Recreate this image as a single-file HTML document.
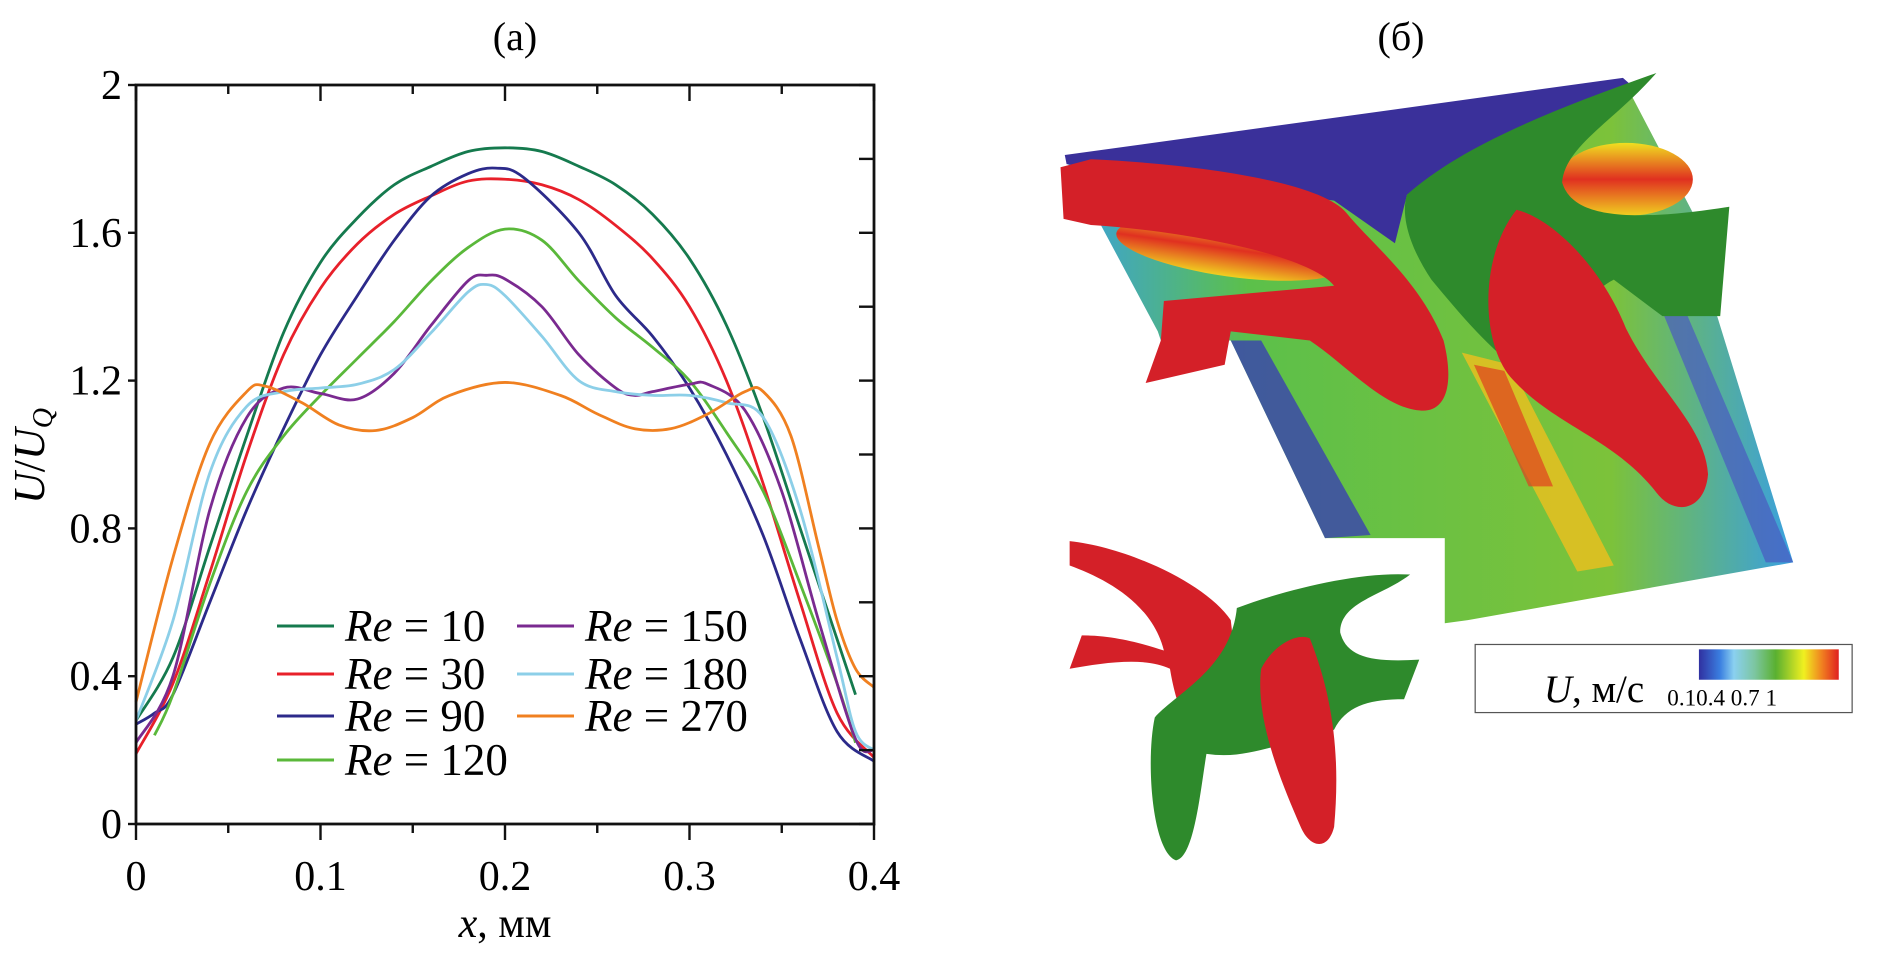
<!DOCTYPE html>
<html><head><meta charset="utf-8"><style>
html,body{margin:0;padding:0;background:#fff;}
svg{display:block;font-family:"Liberation Serif",serif;}
</style></head><body>
<svg id="fig" width="1890" height="963" viewBox="0 0 1890 963" xmlns="http://www.w3.org/2000/svg">
<text x="515" y="50" font-size="40" text-anchor="middle">(a)</text>
<text x="1401" y="50" font-size="40" text-anchor="middle">(б)</text>
<g id="chart"></g>
<g id="legend"></g>
<text transform="translate(44,456) rotate(-90)" font-size="44" text-anchor="middle"><tspan font-style="italic">U</tspan>/<tspan font-style="italic">U</tspan><tspan font-style="italic" font-size="28" dy="8">Q</tspan></text>
<text x="505" y="937" font-size="42" text-anchor="middle"><tspan font-style="italic">x</tspan>, мм</text>

<g transform="translate(945,0) scale(0.608)">
<defs>
<linearGradient id="gPlate" x1="0" y1="0" x2="1" y2="0"><stop offset="0" stop-color="#3aa0e0"/><stop offset="0.25" stop-color="#5cc04a"/><stop offset="0.75" stop-color="#7cc23a"/><stop offset="1" stop-color="#3aa0e0"/></linearGradient>
<linearGradient id="gHot" x1="0" y1="0" x2="0" y2="1"><stop offset="0" stop-color="#f0e020"/><stop offset="0.5" stop-color="#e03020"/><stop offset="1" stop-color="#f0d020"/></linearGradient>
<linearGradient id="gBar" x1="0" y1="0" x2="1" y2="0"><stop offset="0" stop-color="#3030a0"/><stop offset="0.15" stop-color="#3a7ee0"/><stop offset="0.25" stop-color="#8ad0f0"/><stop offset="0.4" stop-color="#7cc6a0"/><stop offset="0.55" stop-color="#5ab030"/><stop offset="0.75" stop-color="#f0f020"/><stop offset="0.88" stop-color="#f08020"/><stop offset="1" stop-color="#e02020"/></linearGradient>
</defs>
<polygon points="200,265 1115,130 1230,350 1150,440 1270,520 1395,925 860,1020 822,1025 822,885 625,885 470,560 355,560 350,545" fill="url(#gPlate)"/>
<polygon points="470,560 520,560 700,880 625,885" fill="#3a40b0" opacity="0.8"/>
<polygon points="1150,440 1200,470 1395,925 1350,925" fill="#4a5ac0" opacity="0.7"/>
<ellipse cx="470" cy="410" rx="190" ry="45" fill="url(#gHot)" transform="rotate(8 470 410)"/>
<ellipse cx="1120" cy="295" rx="110" ry="60" fill="url(#gHot)"/>
<polygon points="850,580 930,600 1100,930 1040,940" fill="#e8c020" opacity="0.85"/>
<polygon points="870,600 920,610 1000,800 960,800" fill="#e04020" opacity="0.7"/>
<polygon points="197,255 1115,128 1140,150 760,320 740,400 640,330 200,270" fill="#3a309a"/>
<path d="M190,275 L240,262 C420,270 620,300 660,350 C700,400 780,460 820,560 C840,640 820,680 780,675 C720,670 660,600 600,560 L470,545 L460,600 L330,630 L355,560 L360,495 L640,470 C600,420 400,380 240,370 L195,360 Z" fill="#d42028"/>
<path d="M760,320 C850,240 1000,180 1170,120 C1100,200 1020,240 1015,300 C1030,350 1100,370 1290,340 L1275,520 L1180,520 L1100,460 C1020,500 1000,640 960,620 C900,580 850,520 800,460 C760,400 750,350 760,320 Z" fill="#2e8a2c"/>
<path d="M940,345 C1000,360 1080,440 1120,540 C1170,640 1250,700 1255,780 C1250,840 1200,850 1170,810 C1100,720 1000,700 930,620 C880,560 880,420 940,345 Z" fill="#d42028"/>
<path d="M205,890 C300,900 430,960 470,1020 C480,1100 480,1200 440,1215 C400,1220 380,1160 370,1100 C330,1080 260,1090 205,1100 L225,1045 C280,1045 330,1060 360,1070 C340,990 260,950 205,930 Z" fill="#d42028"/>
<path d="M480,1000 C560,970 680,940 765,945 C720,980 650,990 650,1040 C660,1080 700,1090 780,1085 L755,1150 C700,1150 660,1160 640,1200 L600,1220 C540,1220 500,1250 430,1240 C420,1300 410,1410 380,1415 C340,1400 330,1250 345,1180 C380,1140 470,1100 480,1000 Z" fill="#2e8a2c"/>
<path d="M520,1100 C540,1060 580,1040 600,1050 C640,1150 650,1250 640,1360 C630,1400 600,1395 585,1360 C550,1280 510,1180 520,1100 Z" fill="#d42028"/>
<rect x="872" y="1060" width="620" height="112" fill="#fff" stroke="#555" stroke-width="2"/>
<rect x="1240" y="1068" width="230" height="50" fill="url(#gBar)"/>
<text x="985" y="1155" font-size="64"><tspan font-style="italic">U</tspan>, м/с</text>
<text x="1188" y="1160" font-size="38">0.10.4 0.7  1</text>
</g>
</svg>
<script>
const xTicks=[0,0.1,0.2,0.3,0.4];
const yTicks=[0,0.4,0.8,1.2,1.6,2];
const seriesNames=["Re = 10","Re = 30","Re = 90","Re = 120","Re = 150","Re = 180","Re = 270"];
const seriesColors=["#157a4e","#e8202a","#2c2a8a","#5ab83a","#7a2a90","#8ccfe8","#f08020"];
const x10=[0,0.02,0.04,0.06,0.08,0.1,0.12,0.14,0.16,0.18,0.2,0.22,0.24,0.26,0.28,0.3,0.32,0.34,0.36,0.38,0.39];
const y10=[0.28,0.45,0.75,1.05,1.33,1.52,1.64,1.73,1.78,1.82,1.83,1.82,1.78,1.73,1.65,1.53,1.35,1.1,0.8,0.5,0.35];
const x30=[0,0.02,0.04,0.06,0.08,0.1,0.12,0.14,0.16,0.18,0.2,0.22,0.24,0.26,0.28,0.3,0.32,0.34,0.36,0.38,0.4];
const y30=[0.19,0.38,0.68,1.0,1.27,1.45,1.57,1.65,1.7,1.74,1.745,1.73,1.69,1.62,1.53,1.4,1.2,0.92,0.6,0.3,0.18];
const x90=[0,0.01,0.02,0.04,0.06,0.08,0.1,0.12,0.14,0.16,0.18,0.195,0.21,0.24,0.26,0.28,0.3,0.32,0.34,0.36,0.38,0.4];
const y90=[0.27,0.3,0.35,0.6,0.85,1.07,1.27,1.43,1.58,1.7,1.76,1.775,1.75,1.6,1.43,1.32,1.18,1.0,0.78,0.5,0.25,0.17];
const x120=[0.01,0.02,0.04,0.06,0.08,0.1,0.12,0.14,0.16,0.18,0.2,0.22,0.24,0.26,0.28,0.3,0.32,0.34,0.36,0.38,0.39];
const y120=[0.24,0.35,0.65,0.9,1.05,1.16,1.26,1.36,1.47,1.56,1.61,1.58,1.47,1.37,1.29,1.2,1.06,0.9,0.65,0.38,0.22];
const x150=[0,0.02,0.04,0.06,0.08,0.1,0.12,0.14,0.16,0.18,0.19,0.2,0.22,0.24,0.26,0.27,0.28,0.3,0.31,0.33,0.35,0.37,0.39,0.4];
const y150=[0.22,0.4,0.85,1.1,1.18,1.165,1.15,1.22,1.35,1.47,1.485,1.475,1.4,1.27,1.18,1.16,1.17,1.19,1.19,1.12,0.9,0.55,0.23,0.2];
const x180=[0,0.02,0.04,0.06,0.08,0.1,0.12,0.14,0.16,0.18,0.19,0.2,0.22,0.24,0.26,0.28,0.3,0.32,0.34,0.36,0.38,0.39,0.4];
const y180=[0.28,0.55,0.95,1.13,1.17,1.18,1.19,1.23,1.33,1.44,1.46,1.43,1.32,1.2,1.17,1.16,1.16,1.14,1.1,0.85,0.45,0.25,0.2];
const x270=[0,0.02,0.04,0.06,0.07,0.09,0.11,0.13,0.15,0.17,0.2,0.23,0.25,0.27,0.29,0.31,0.33,0.34,0.355,0.37,0.38,0.39,0.4];
const y270=[0.33,0.72,1.03,1.17,1.185,1.14,1.08,1.065,1.1,1.16,1.195,1.16,1.11,1.07,1.07,1.11,1.17,1.17,1.05,0.75,0.55,0.42,0.37];
const seriesX=[x10,x30,x90,x120,x150,x180,x270];
const seriesY=[y10,y30,y90,y120,y150,y180,y270];

const NS="http://www.w3.org/2000/svg";
const L=136,R=874,T=85,B=824;
const sx=v=>L+(v-0)/(0.4-0)*(R-L);
const sy=v=>B-(v-0)/(2-0)*(B-T);
const g=document.getElementById('chart');
function mk(tag,attrs,parent){const e=document.createElementNS(NS,tag);for(const k in attrs)e.setAttribute(k,attrs[k]);(parent||g).appendChild(e);return e;}

seriesX.forEach((xs,i)=>{
  const pts=xs.map((x,j)=>[sx(x),sy(seriesY[i][j])]);
  let d="M"+pts[0][0]+","+pts[0][1];
  for(let j=0;j<pts.length-1;j++){
    const p0=pts[j-1]||pts[j],p1=pts[j],p2=pts[j+1],p3=pts[j+2]||p2;
    const c1=[p1[0]+(p2[0]-p0[0])/6,p1[1]+(p2[1]-p0[1])/6];
    const c2=[p2[0]-(p3[0]-p1[0])/6,p2[1]-(p3[1]-p1[1])/6];
    d+=" C"+c1[0]+","+c1[1]+" "+c2[0]+","+c2[1]+" "+p2[0]+","+p2[1];
  }
  const p=mk('path',{d:d,fill:'none',stroke:seriesColors[i],'stroke-width':2.8});
  
  
});

const fr=mk('rect',{x:L,y:T,width:R-L,height:B-T,fill:'none',stroke:'#111','stroke-width':2.8});



for(let k=0;k<=8;k++){
  const v=k*0.05,X=sx(v),major=k%2===0;
  const t=mk('line',{x1:X,y1:B,x2:X,y2:B+(major?16:9),stroke:'#111','stroke-width':2.4});
  
  
  const t2=mk('line',{x1:X,y1:T,x2:X,y2:T+(major?16:9),stroke:'#111','stroke-width':2.4});
  
  
}
xTicks.forEach(v=>{
  const tx=mk('text',{x:sx(v),y:B+66,'font-size':42,'text-anchor':'middle'});
  tx.textContent=String(v);
  
  
});
for(let k=0;k<=10;k++){
  const v=k*0.2,Y=sy(v),major=k%2===0;
  if(major){
    const t=mk('line',{x1:L-8,y1:Y,x2:L,y2:Y,stroke:'#111','stroke-width':2.4});
    
    
  }
  const t2=mk('line',{x1:R,y1:Y,x2:R-15,y2:Y,stroke:'#111','stroke-width':2.4});
  
  
}
yTicks.forEach(v=>{
  const tx=mk('text',{x:L-14,y:sy(v)+14,'font-size':42,'text-anchor':'end'});
  tx.textContent=String(v);
  
  
});

const lg=document.getElementById('legend');
const legPos=[[277,626],[277,674],[277,716],[277,760],[517,626],[517,674],[517,716]];
seriesNames.forEach((n,i)=>{
  const [x,y]=legPos[i];
  const ln=mk('line',{x1:x,y1:y,x2:x+57,y2:y,stroke:seriesColors[i],'stroke-width':3},lg);
  
  
  const tx=mk('text',{x:x+68,y:y+15,'font-size':45},lg);
  const it=mk('tspan',{'font-style':'italic'},tx);
  it.textContent='Re';
  tx.appendChild(document.createTextNode(n.slice(2)));
  
  
});
</script>
</body></html>
